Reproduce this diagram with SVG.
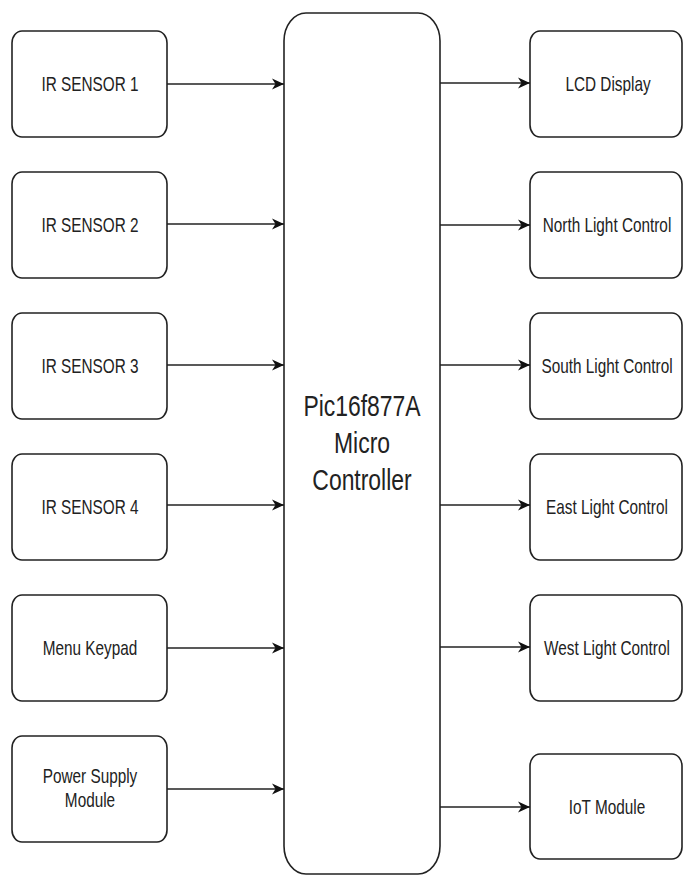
<svg xmlns="http://www.w3.org/2000/svg" width="684" height="876" viewBox="0 0 684 876">
<defs>
<style>
.box{fill:#fff;stroke:#222;stroke-width:1.6}
.lbl{font-family:"Liberation Sans",Arial,sans-serif;font-size:21px;fill:#222;text-anchor:middle}
.big{font-family:"Liberation Sans",Arial,sans-serif;font-size:29px;fill:#222;text-anchor:middle}
.conn{stroke:#222;stroke-width:1.7;fill:none;marker-end:url(#ah)}
</style>
<marker id="ah" markerUnits="userSpaceOnUse" markerWidth="13" markerHeight="13" refX="12" refY="6.5" orient="auto">
<path d="M0,1 L12,6.5 L0,12 L3.5,6.5 z" fill="#111"/>
</marker>
</defs>
<rect width="684" height="876" fill="#fff"/>
<g id="mcu">
<rect class="box" x="284" y="13" width="156" height="861" rx="22" ry="28"/>
<g transform="translate(362,416) scale(0.79,1)"><text class="big" x="0" y="0">Pic16f877A</text></g>
<g transform="translate(362,453) scale(0.79,1)"><text class="big" x="0" y="0">Micro</text></g>
<g transform="translate(362,490) scale(0.79,1)"><text class="big" x="0" y="0">Controller</text></g>
</g>
<g id="ir1"><rect class="box" x="12" y="31" width="155" height="106" rx="10" ry="12"/><g transform="translate(90,91) scale(0.73,1)"><text class="lbl">IR SENSOR 1</text></g></g>
<g id="ir2"><rect class="box" x="12" y="172" width="155" height="106" rx="10" ry="12"/><g transform="translate(90,232) scale(0.73,1)"><text class="lbl">IR SENSOR 2</text></g></g>
<g id="ir3"><rect class="box" x="12" y="313" width="155" height="106" rx="10" ry="12"/><g transform="translate(90,373) scale(0.73,1)"><text class="lbl">IR SENSOR 3</text></g></g>
<g id="ir4"><rect class="box" x="12" y="454" width="155" height="106" rx="10" ry="12"/><g transform="translate(90,514) scale(0.73,1)"><text class="lbl">IR SENSOR 4</text></g></g>
<g id="keypad"><rect class="box" x="12" y="595" width="155" height="106" rx="10" ry="12"/><g transform="translate(90,655) scale(0.73,1)"><text class="lbl">Menu Keypad</text></g></g>
<g id="power"><rect class="box" x="12" y="736" width="155" height="106" rx="10" ry="12"/><g transform="translate(90,783) scale(0.73,1)"><text class="lbl">Power Supply</text></g><g transform="translate(90,807) scale(0.73,1)"><text class="lbl">Module</text></g></g>
<g id="lcd"><rect class="box" x="530" y="31" width="152" height="106" rx="10" ry="12"/><g transform="translate(608,91) scale(0.73,1)"><text class="lbl">LCD Display</text></g></g>
<g id="north"><rect class="box" x="530" y="172" width="152" height="106" rx="10" ry="12"/><g transform="translate(607,232) scale(0.73,1)"><text class="lbl">North Light Control</text></g></g>
<g id="south"><rect class="box" x="530" y="313" width="152" height="106" rx="10" ry="12"/><g transform="translate(607,373) scale(0.73,1)"><text class="lbl">South Light Control</text></g></g>
<g id="east"><rect class="box" x="530" y="454" width="152" height="106" rx="10" ry="12"/><g transform="translate(607,514) scale(0.73,1)"><text class="lbl">East Light Control</text></g></g>
<g id="west"><rect class="box" x="530" y="595" width="152" height="106" rx="10" ry="12"/><g transform="translate(607,655) scale(0.73,1)"><text class="lbl">West Light Control</text></g></g>
<g id="iot"><rect class="box" x="530" y="754" width="152" height="105" rx="10" ry="12"/><g transform="translate(607,814) scale(0.73,1)"><text class="lbl">IoT Module</text></g></g>
<g id="connectors">
<line class="conn" x1="167" y1="84" x2="284" y2="84"/>
<line class="conn" x1="167" y1="224" x2="284" y2="224"/>
<line class="conn" x1="167" y1="365" x2="284" y2="365"/>
<line class="conn" x1="167" y1="505" x2="284" y2="505"/>
<line class="conn" x1="167" y1="648" x2="284" y2="648"/>
<line class="conn" x1="167" y1="789" x2="284" y2="789"/>
<line class="conn" x1="440" y1="83" x2="530" y2="83"/>
<line class="conn" x1="440" y1="225" x2="530" y2="225"/>
<line class="conn" x1="440" y1="365" x2="530" y2="365"/>
<line class="conn" x1="440" y1="505" x2="530" y2="505"/>
<line class="conn" x1="440" y1="647" x2="530" y2="647"/>
<line class="conn" x1="440" y1="807" x2="530" y2="807"/>
</g>
</svg>
